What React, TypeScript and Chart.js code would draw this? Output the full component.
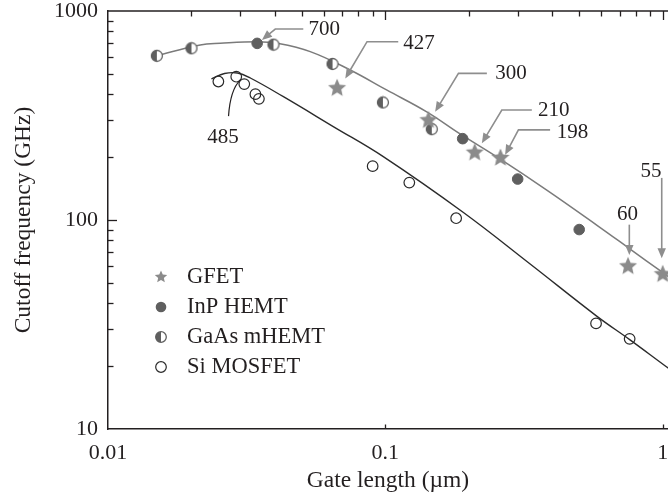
import { useEffect, useRef, useState } from 'react';
import { Chart, registerables } from 'chart.js';

Chart.register(...registerables);

const SERIF = '"Liberation Serif", "Times New Roman", serif';
const INK = '#231f20';
const STAR_GREY = '#8b8b8b';
const DARK_GREY = '#5f5f5f';
const ARROW_GREY = '#8e8e8e';
const UPPER_LINE = '#7b7b7b';
const LOWER_LINE = '#2b2b2b';

const WIDTH = 668;
const HEIGHT = 500;

// Gate length (µm) and cutoff frequency (GHz) per device family
const gfetLength = [0.067, 0.143, 0.21, 0.26, 0.75, 1.0];
const gfetFreq = [427, 300, 210, 198, 60, 55];

const inpLength = [0.0345, 0.19, 0.3, 0.5];
const inpFreq = [700, 245, 157, 90];

const gaasLength = [0.015, 0.02, 0.0395, 0.0645, 0.098, 0.147];
const gaasFreq = [610, 663, 690, 558, 365, 272];

const siLength = [0.025, 0.029, 0.031, 0.034, 0.035, 0.09, 0.122, 0.18, 0.575, 0.76];
const siFreq = [460, 485, 447, 400, 380, 181, 151, 102, 32, 27];

// Trend curves (III-V / graphene envelope and Si envelope)
const upperTrendLength = [0.0148, 0.0215, 0.0254, 0.0345, 0.0407, 0.0536, 0.0747, 0.101, 0.141, 0.186, 0.259, 0.382, 0.578, 0.763, 1.005, 1.36];
const upperTrendFreq = [609, 688, 701, 713, 701, 639, 522, 419, 329, 258, 196, 139, 94.6, 72.6, 55.8, 41.9];

const lowerTrendLength = [0.0236, 0.0263, 0.0293, 0.0326, 0.0429, 0.0649, 0.0983, 0.1912, 0.3327, 0.578, 0.7625, 1.034, 1.36];
const lowerTrendFreq = [473, 502, 505, 478, 389, 280, 201, 108.6, 61.6, 34.7, 26.7, 19.8, 15.2];

const X_MIN = 0.01;
const X_MAX = 1.045;
const Y_MIN = 10;
const Y_MAX = 1000;

const xTickValues = [0.01, 0.1, 1];
const xTickLabels = ['0.01', '0.1', '1'];
const yTickValues = [10, 100, 1000];
const yTickLabels = ['10', '100', '1000'];

// Unlabelled inward tick marks on the frame
const decadeSteps = [2, 3, 4, 5, 6, 7, 8, 9];
const xMinorTicks = [0.01, 0.1].flatMap((d) => decadeSteps.map((m) => d * m));
const xMajorTicks = [0.1, 1];
const yMinorTicks = [10, 100].flatMap((d) => decadeSteps.map((m) => d * m));
const yMajorTicks = [100];

type Pt = [number, number];
type Callout = {
  text: string;
  at: Pt;
  align: CanvasTextAlign;
  path: Pt[];
  arrow: boolean;
  curved?: boolean;
};

// Value callouts: text anchor and leader path, in data coordinates
const callouts: Callout[] = [
  { text: '700', at: [0.0528, 820], align: 'left', path: [[0.0506, 820], [0.0401, 820], [0.0359, 727]], arrow: true },
  { text: '427', at: [0.116, 703], align: 'left', path: [[0.1113, 713], [0.0859, 713], [0.0717, 476]], arrow: true },
  { text: '300', at: [0.2488, 500], align: 'left', path: [[0.2323, 503], [0.1835, 503], [0.1512, 330]], arrow: true },
  { text: '210', at: [0.3554, 336], align: 'left', path: [[0.3374, 336], [0.263, 336], [0.2228, 233]], arrow: true },
  { text: '198', at: [0.415, 262], align: 'left', path: [[0.3926, 270], [0.3019, 270], [0.2703, 205]], arrow: true },
  { text: '60', at: [0.747, 106], align: 'center', path: [[0.758, 95], [0.758, 68]], arrow: true },
  { text: '55', at: [0.908, 170], align: 'center', path: [[0.992, 159], [0.992, 65.6]], arrow: true },
  { text: '485', at: [0.026, 247], align: 'center', path: [[0.0272, 314], [0.0276, 420], [0.03, 468]], arrow: false, curved: true },
];

type MarkKind = 'star' | 'dot' | 'half' | 'ring';

function drawMark(ctx: CanvasRenderingContext2D, kind: MarkKind, x: number, y: number, r: number) {
  ctx.save();
  if (kind === 'star') {
    const inner = r * 0.46;
    ctx.beginPath();
    for (let i = 0; i < 10; i++) {
      const rad = i % 2 === 0 ? r : inner;
      const a = -Math.PI / 2 + (i * Math.PI) / 5;
      const px = x + rad * Math.cos(a);
      const py = y + rad * Math.sin(a);
      if (i === 0) ctx.moveTo(px, py);
      else ctx.lineTo(px, py);
    }
    ctx.closePath();
    ctx.fillStyle = STAR_GREY;
    ctx.fill();
  } else if (kind === 'dot') {
    ctx.beginPath();
    ctx.arc(x, y, r, 0, Math.PI * 2);
    ctx.fillStyle = DARK_GREY;
    ctx.fill();
  } else if (kind === 'half') {
    ctx.beginPath();
    ctx.arc(x, y, r, 0, Math.PI * 2);
    ctx.fillStyle = '#ffffff';
    ctx.fill();
    ctx.beginPath();
    ctx.arc(x, y, r, Math.PI / 2, (Math.PI * 3) / 2);
    ctx.closePath();
    ctx.fillStyle = DARK_GREY;
    ctx.fill();
    ctx.beginPath();
    ctx.arc(x, y, r, 0, Math.PI * 2);
    ctx.lineWidth = 1.3;
    ctx.strokeStyle = DARK_GREY;
    ctx.stroke();
  } else {
    ctx.beginPath();
    ctx.arc(x, y, r, 0, Math.PI * 2);
    ctx.lineWidth = 1.2;
    ctx.strokeStyle = '#2a2a2a';
    ctx.stroke();
  }
  ctx.restore();
}

function markImage(kind: MarkKind, r: number): HTMLCanvasElement {
  const size = Math.ceil(r * 2 + 3);
  const c = document.createElement('canvas');
  c.width = size;
  c.height = size;
  const ctx = c.getContext('2d') as CanvasRenderingContext2D;
  drawMark(ctx, kind, size / 2, size / 2, r);
  return c;
}

const zip = (xs: number[], ys: number[]) => xs.map((x, i) => ({ x, y: ys[i] }));

function drawCallouts(chart: any) {
  const ctx: CanvasRenderingContext2D = chart.ctx;
  const xs = chart.scales.x;
  const ys = chart.scales.y;
  const toPx = (p: Pt) => ({ x: xs.getPixelForValue(p[0]), y: ys.getPixelForValue(p[1]) });
  ctx.save();
  callouts.forEach((c) => {
    const pts = c.path.map(toPx);
    if (c.curved) {
      ctx.strokeStyle = INK;
      ctx.lineWidth = 1.2;
      ctx.beginPath();
      ctx.moveTo(pts[0].x, pts[0].y);
      ctx.quadraticCurveTo(pts[1].x, pts[1].y, pts[2].x, pts[2].y);
      ctx.stroke();
    } else {
      const tip = pts[pts.length - 1];
      const prev = pts[pts.length - 2];
      const ang = Math.atan2(tip.y - prev.y, tip.x - prev.x);
      const len = 10;
      const half = 4.2;
      const base = { x: tip.x - len * Math.cos(ang), y: tip.y - len * Math.sin(ang) };
      ctx.strokeStyle = ARROW_GREY;
      ctx.fillStyle = ARROW_GREY;
      ctx.lineWidth = 1.6;
      ctx.beginPath();
      ctx.moveTo(pts[0].x, pts[0].y);
      for (let i = 1; i < pts.length - 1; i++) ctx.lineTo(pts[i].x, pts[i].y);
      ctx.lineTo(base.x + 2 * Math.cos(ang), base.y + 2 * Math.sin(ang));
      ctx.stroke();
      if (c.arrow) {
        ctx.beginPath();
        ctx.moveTo(tip.x, tip.y);
        ctx.lineTo(base.x + half * Math.sin(ang), base.y - half * Math.cos(ang));
        ctx.lineTo(base.x - half * Math.sin(ang), base.y + half * Math.cos(ang));
        ctx.closePath();
        ctx.fill();
      }
    }
    const t = toPx(c.at);
    ctx.fillStyle = INK;
    ctx.font = `21px ${SERIF}`;
    ctx.textAlign = c.align;
    ctx.textBaseline = 'middle';
    ctx.fillText(c.text, t.x, t.y);
  });
  ctx.restore();
}

function drawLegend(chart: any) {
  const ctx: CanvasRenderingContext2D = chart.ctx;
  const area = chart.chartArea;
  const items = chart.data.datasets.filter((d: any) => d.mark);
  ctx.save();
  ctx.font = `22.5px ${SERIF}`;
  ctx.textAlign = 'left';
  ctx.textBaseline = 'middle';
  items.forEach((d: any, i: number) => {
    const cy = area.top + 266 + i * 30;
    drawMark(ctx, d.mark, area.left + 53, cy, d.mark === 'star' ? 6.5 : 5.3);
    ctx.fillStyle = INK;
    ctx.fillText(d.label, area.left + 79, cy);
  });
  ctx.restore();
}

const decorations = {
  id: 'decorations',
  afterDatasetsDraw(chart: any) {
    drawCallouts(chart);
  },
  afterDraw(chart: any) {
    drawLegend(chart);
  },
};

type Seg = { x1: number; y1: number; x2: number; y2: number; w: number };

// Closed top edge and inward tick marks, positioned from the chart's own scales
function frameSegments(chart: any): Seg[] {
  const area = chart.chartArea;
  const xs = chart.scales.x;
  const ys = chart.scales.y;
  const px = (v: number) => Math.round(xs.getPixelForValue(v)) + 0.5;
  const py = (v: number) => Math.round(ys.getPixelForValue(v)) + 0.5;
  const segs: Seg[] = [];
  segs.push({ x1: area.left, y1: area.top, x2: WIDTH, y2: area.top, w: 1.5 });
  xMinorTicks.forEach((v) => segs.push({ x1: px(v), y1: area.top, x2: px(v), y2: area.top + 5.5, w: 1.3 }));
  xMajorTicks.forEach((v) => segs.push({ x1: px(v), y1: area.top, x2: px(v), y2: area.top + 9, w: 1.3 }));
  yMinorTicks.forEach((v) => segs.push({ x1: area.left, y1: py(v), x2: area.left + 5.5, y2: py(v), w: 1.3 }));
  yMajorTicks.forEach((v) => segs.push({ x1: area.left, y1: py(v), x2: area.left + 9, y2: py(v), w: 1.3 }));
  xMajorTicks.forEach((v) => segs.push({ x1: px(v), y1: area.bottom, x2: px(v), y2: area.bottom - 4.5, w: 1.3 }));
  return segs;
}

export default function App() {
  const canvasRef = useRef<HTMLCanvasElement | null>(null);
  const [frame, setFrame] = useState<Seg[]>([]);

  useEffect(() => {
    const canvas = canvasRef.current;
    if (!canvas) return;

    const starImg = markImage('star', 9.5);
    const halfImg = markImage('half', 5.5);

    const tickFont = { family: SERIF, size: 22, lineHeight: 1 };
    const titleFont = { family: SERIF, size: 23.5 };

    const chart = new Chart(canvas, {
      type: 'scatter',
      data: {
        datasets: [
          {
            label: 'GFET',
            mark: 'star',
            data: zip(gfetLength, gfetFreq),
            pointStyle: starImg,
            pointRadius: 9.5,
            order: 0,
          } as any,
          {
            label: 'InP HEMT',
            mark: 'dot',
            data: zip(inpLength, inpFreq),
            pointStyle: 'circle',
            pointRadius: 5.3,
            backgroundColor: DARK_GREY,
            borderColor: DARK_GREY,
            borderWidth: 1,
            order: 1,
          } as any,
          {
            label: 'GaAs mHEMT',
            mark: 'half',
            data: zip(gaasLength, gaasFreq),
            pointStyle: halfImg,
            pointRadius: 5.5,
            order: 2,
          } as any,
          {
            label: 'Si MOSFET',
            mark: 'ring',
            data: zip(siLength, siFreq),
            pointStyle: 'circle',
            pointRadius: 5.3,
            backgroundColor: 'rgba(0,0,0,0)',
            borderColor: '#2a2a2a',
            borderWidth: 1.2,
            order: 3,
          } as any,
          {
            label: 'III-V / GFET trend',
            data: zip(upperTrendLength, upperTrendFreq),
            showLine: true,
            pointRadius: 0,
            borderColor: UPPER_LINE,
            borderWidth: 1.5,
            tension: 0.4,
            order: 10,
          } as any,
          {
            label: 'Si trend',
            data: zip(lowerTrendLength, lowerTrendFreq),
            showLine: true,
            pointRadius: 0,
            borderColor: LOWER_LINE,
            borderWidth: 1.4,
            tension: 0.4,
            order: 11,
          } as any,
        ],
      },
      options: {
        responsive: false,
        devicePixelRatio: 1,
        animation: false,
        events: [],
        layout: { autoPadding: false, padding: { left: 0, top: 11, right: 0, bottom: 0 } },
        plugins: {
          legend: { display: false },
          tooltip: { enabled: false },
        },
        scales: {
          x: {
            type: 'logarithmic',
            position: 'bottom',
            min: X_MIN,
            max: X_MAX,
            afterBuildTicks: (s: any) => {
              s.ticks = xTickValues.map((v) => ({ value: v }));
            },
            afterFit: (s: any) => {
              s.height = 71;
              s.paddingLeft = 0;
              s.paddingRight = 0;
            },
            grid: { display: true, drawOnChartArea: false, drawTicks: true, tickLength: 13.5, color: 'rgba(0,0,0,0)' },
            border: { display: true, color: INK, width: 1.5 },
            ticks: {
              autoSkip: false,
              maxRotation: 0,
              padding: 0,
              color: INK,
              font: tickFont,
              callback: (_v: any, i: number) => xTickLabels[i],
            },
            title: {
              display: true,
              text: 'Gate length (µm)',
              color: INK,
              font: titleFont,
              padding: { top: 0, bottom: 5 },
            },
          },
          y: {
            type: 'logarithmic',
            position: 'left',
            min: Y_MIN,
            max: Y_MAX,
            afterBuildTicks: (s: any) => {
              s.ticks = yTickValues.map((v) => ({ value: v }));
            },
            afterFit: (s: any) => {
              s.width = 108;
              s.paddingTop = 0;
              s.paddingBottom = 0;
            },
            grid: { display: true, drawOnChartArea: false, drawTicks: true, tickLength: 10, color: 'rgba(0,0,0,0)' },
            border: { display: true, color: INK, width: 1.5 },
            ticks: {
              autoSkip: false,
              padding: 0,
              color: INK,
              font: tickFont,
              callback: (_v: any, i: number) => yTickLabels[i],
            },
            title: {
              display: true,
              text: 'Cutoff frequency (GHz)',
              color: INK,
              font: titleFont,
              padding: { top: 10, bottom: 0 },
            },
          },
        },
      } as any,
      plugins: [decorations],
    });

    setFrame(frameSegments(chart));

    return () => chart.destroy();
  }, []);

  return (
    <div
      style={{
        position: 'fixed',
        left: 0,
        top: 0,
        width: WIDTH,
        height: HEIGHT,
        overflow: 'hidden',
        background: '#ffffff',
      }}
    >
      <canvas
        ref={canvasRef}
        width={WIDTH}
        height={HEIGHT}
        style={{ display: 'block', width: WIDTH, height: HEIGHT, position: 'absolute', left: 0, top: 0 }}
      />
      <svg
        width={WIDTH}
        height={HEIGHT}
        style={{ position: 'absolute', left: 0, top: 0, pointerEvents: 'none' }}
      >
        {frame.map((s, i) => (
          <line key={i} x1={s.x1} y1={s.y1} x2={s.x2} y2={s.y2} stroke={INK} strokeWidth={s.w} />
        ))}
      </svg>
    </div>
  );
}
